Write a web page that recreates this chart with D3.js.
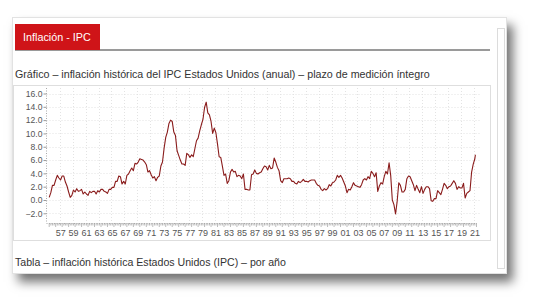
<!DOCTYPE html>
<html>
<head>
<meta charset="utf-8">
<script src="https://cdn.jsdelivr.net/npm/d3@7.9.0/dist/d3.min.js"></script>
<style>
  body { margin: 0; background: #fff; font-family: "Liberation Sans", Arial, sans-serif; }
  #page { position: relative; width: 535px; height: 304px; overflow: hidden; }
  .card { position: absolute; left: 12px; top: 17px; width: 493px; height: 255px; background: #fff;
          border: 1px solid #e2e2e2; box-shadow: 6px 8px 10px rgba(0,0,0,0.55); }
  .scroll { position: absolute; left: 497px; top: 28px; width: 6px; height: 239px; border: 1px solid #dcdcdc; background: #fff; }
  .tabline { position: absolute; left: 15px; top: 49px; width: 475px; height: 2px; background: #9a9a9a; }
  .tab { position: absolute; left: 15px; top: 24px; width: 85px; height: 26px; background: #cf1418;
         color: #fff; font-size: 10.8px; line-height: 26px; padding-left: 8px; box-sizing: border-box; }
  .titulo { position: absolute; left: 15px; top: 68px; font-size: 10.7px; color: #333; white-space: nowrap; }
  .tabla { position: absolute; left: 15px; top: 256px; font-size: 10.6px; color: #333; white-space: nowrap; }
  .box { position: absolute; left: 13px; top: 85px; width: 476px; height: 154px; border: 1px solid #dedede; }
  svg { position: absolute; left: 0; top: 0; }
</style>
</head>
<body>
<div id="page">
  <div class="card"></div>
  <div class="scroll"></div>
  <div class="tabline"></div>
  <div class="tab">Inflación - IPC</div>
  <div class="titulo">Gráfico – inflación histórica del IPC Estados Unidos (anual) – plazo de medición íntegro</div>
  <div class="box"></div>
  <div class="tabla">Tabla – inflación histórica Estados Unidos (IPC) – por año</div>
</div>
<script>
// inflación interanual (%), valores en enero, abril, julio y octubre de cada año
const primerAnio = 1956;
const valores = [
  [0.4, 1.1, 2.2, 2.2],    // 1956
  [3.0, 3.7, 3.3, 3.0],
  [3.6, 3.6, 2.7, 2.1],
  [1.2, 0.4, 0.7, 1.5],
  [1.2, 1.7, 1.3, 1.4],    // 1960
  [1.6, 0.9, 1.2, 0.9],
  [0.7, 1.3, 1.1, 1.3],
  [1.3, 0.9, 1.4, 1.2],
  [1.6, 1.6, 1.3, 1.2],
  [1.0, 1.6, 1.6, 1.9],
  [1.9, 2.8, 2.8, 3.6],
  [3.5, 2.4, 2.8, 2.4],
  [3.7, 3.9, 4.4, 4.8],
  [4.4, 5.5, 5.4, 5.7],
  [6.2, 6.1, 6.0, 5.7],    // 1970
  [5.3, 4.2, 4.4, 3.8],
  [3.3, 3.5, 2.9, 3.4],
  [3.6, 5.1, 5.7, 7.8],
  [9.4, 10.2, 11.5, 12.0],
  [11.8, 10.2, 9.7, 7.4],
  [6.7, 6.0, 5.4, 5.4],
  [5.2, 7.0, 6.8, 6.4],
  [6.8, 6.5, 7.7, 8.9],
  [9.3, 10.4, 11.3, 12.1],
  [13.9, 14.7, 13.1, 12.8], // 1980
  [11.8, 10.0, 10.8, 10.1],
  [8.4, 6.5, 6.4, 5.1],
  [3.7, 3.9, 2.5, 2.9],
  [4.2, 4.6, 4.2, 4.3],
  [3.5, 3.7, 3.6, 3.2],
  [3.9, 1.6, 1.6, 1.5],
  [1.5, 3.8, 3.9, 4.5],
  [4.0, 3.9, 4.1, 4.2],
  [4.7, 5.1, 5.0, 4.5],
  [5.2, 4.7, 4.8, 6.3],    // 1990
  [5.7, 4.9, 4.4, 2.9],
  [2.6, 3.2, 3.2, 3.2],
  [3.3, 3.2, 2.8, 2.8],
  [2.5, 2.4, 2.8, 2.6],
  [2.8, 3.1, 2.8, 2.8],
  [2.7, 2.9, 3.0, 3.0],
  [3.0, 2.5, 2.2, 2.1],
  [1.6, 1.4, 1.7, 1.5],
  [1.7, 2.3, 2.1, 2.6],
  [2.7, 3.0, 3.7, 3.4],    // 2000
  [3.7, 3.3, 2.7, 2.1],
  [1.1, 1.6, 1.5, 2.0],
  [2.6, 2.2, 2.1, 2.0],
  [1.9, 2.3, 3.0, 3.2],
  [3.0, 3.5, 3.2, 4.3],
  [4.0, 3.5, 4.1, 1.3],
  [2.1, 2.6, 2.4, 3.5],
  [4.3, 3.9, 5.6, 3.7],
  [0.0, -0.7, -2.1, -0.2],
  [2.6, 2.2, 1.2, 1.2],    // 2010
  [1.6, 3.2, 3.6, 3.5],
  [2.9, 2.3, 1.4, 2.2],
  [1.6, 1.1, 2.0, 1.0],
  [1.6, 2.0, 2.0, 1.7],
  [-0.1, -0.2, 0.2, 0.2],
  [1.4, 1.1, 0.8, 1.6],
  [2.5, 2.2, 1.7, 2.0],
  [2.1, 2.5, 2.9, 2.5],
  [1.6, 2.0, 1.8, 1.8],
  [2.5, 0.3, 1.0, 1.2],    // 2020
  [1.4, 4.2, 5.4, 6.2]
];
// último dato: noviembre 2021
const ultimaFecha = 2021 + 10 / 12;
const ultimoValor = 6.8;

const yTicks = [-2, 0, 2, 4, 6, 8, 10, 12, 14, 16];
const xTicks = d3.range(1957, 2022, 2);
const xLabels = ['57','59','61','63','65','67','69','71','73','75','77','79','81','83','85','87',
  '89','91','93','95','97','99','01','03','05','07','09','11','13','15','17','19','21'];

let data = [];
valores.forEach((v, i) => {
  v.forEach((d, q) => data.push({ t: primerAnio + i + q / 4, v: d }));
});
data.push({ t: ultimaFecha, v: ultimoValor });

const svg = d3.select('#page').append('svg').attr('width', 535).attr('height', 304);

const x = d3.scaleLinear().domain([1956, 2021]).range([49.2, 470]);
const y = d3.scaleLinear().domain([-2, 16]).range([213.3, 93.5]);
const plotTop = 88, plotBottom = 223, plotLeft = 46.5, plotRight = 480;

// grid
svg.append('g').selectAll('line').data(yTicks).join('line')
  .attr('x1', plotLeft).attr('x2', plotRight)
  .attr('y1', d => Math.round(y(d)) + 0.5).attr('y2', d => Math.round(y(d)) + 0.5)
  .attr('stroke', '#e3e3e3').attr('stroke-dasharray', '1,2');
svg.append('g').selectAll('line').data(xTicks).join('line')
  .attr('x1', d => Math.round(x(d) + 4) + 0.5).attr('x2', d => Math.round(x(d) + 4) + 0.5)
  .attr('y1', plotTop).attr('y2', plotBottom)
  .attr('stroke', '#e3e3e3').attr('stroke-dasharray', '1,2');

// y axis
const yAxis = svg.append('g').attr('transform', `translate(${plotLeft},0)`)
  .call(d3.axisLeft(y).tickValues(yTicks).tickFormat(d3.format('.1f')).tickSize(3).tickPadding(1));
yAxis.select('.domain').remove();
yAxis.selectAll('text').attr('fill', '#555').attr('font-size', '8.6px')
  .attr('font-family', 'Liberation Sans, Arial, sans-serif');
yAxis.selectAll('line').attr('stroke', '#999');
svg.append('line').attr('x1', plotLeft).attr('x2', plotLeft).attr('y1', plotTop).attr('y2', plotBottom)
  .attr('stroke', '#aaa').attr('stroke-dasharray', '1,1.5');

// x axis
svg.append('line').attr('x1', plotLeft).attr('x2', 477).attr('y1', plotBottom + 0.5).attr('y2', plotBottom + 0.5)
  .attr('stroke', '#aaa').attr('stroke-dasharray', '1,1.5');
svg.append('g').selectAll('line').data(d3.range(1956, 2022.01, 0.25)).join('line')
  .attr('x1', d => x(d)).attr('x2', d => x(d))
  .attr('y1', plotBottom).attr('y2', d => plotBottom + (Number.isInteger(d) ? 4 : 2.5))
  .attr('stroke', '#aaa').attr('stroke-width', 0.8);
svg.append('g').selectAll('text').data(xTicks).join('text')
  .attr('x', d => x(d)).attr('y', 236)
  .attr('font-size', '9px').attr('fill', '#555')
  .attr('font-family', 'Liberation Sans, Arial, sans-serif')
  .text((d, i) => xLabels[i]);

// line
const line = d3.line().x(d => x(d.t)).y(d => y(d.v));
svg.append('path').datum(data)
  .attr('d', line)
  .attr('fill', 'none')
  .attr('stroke', '#8a1c1c')
  .attr('stroke-width', 1.1)
  .attr('stroke-linejoin', 'round');
</script>
</body>
</html>
